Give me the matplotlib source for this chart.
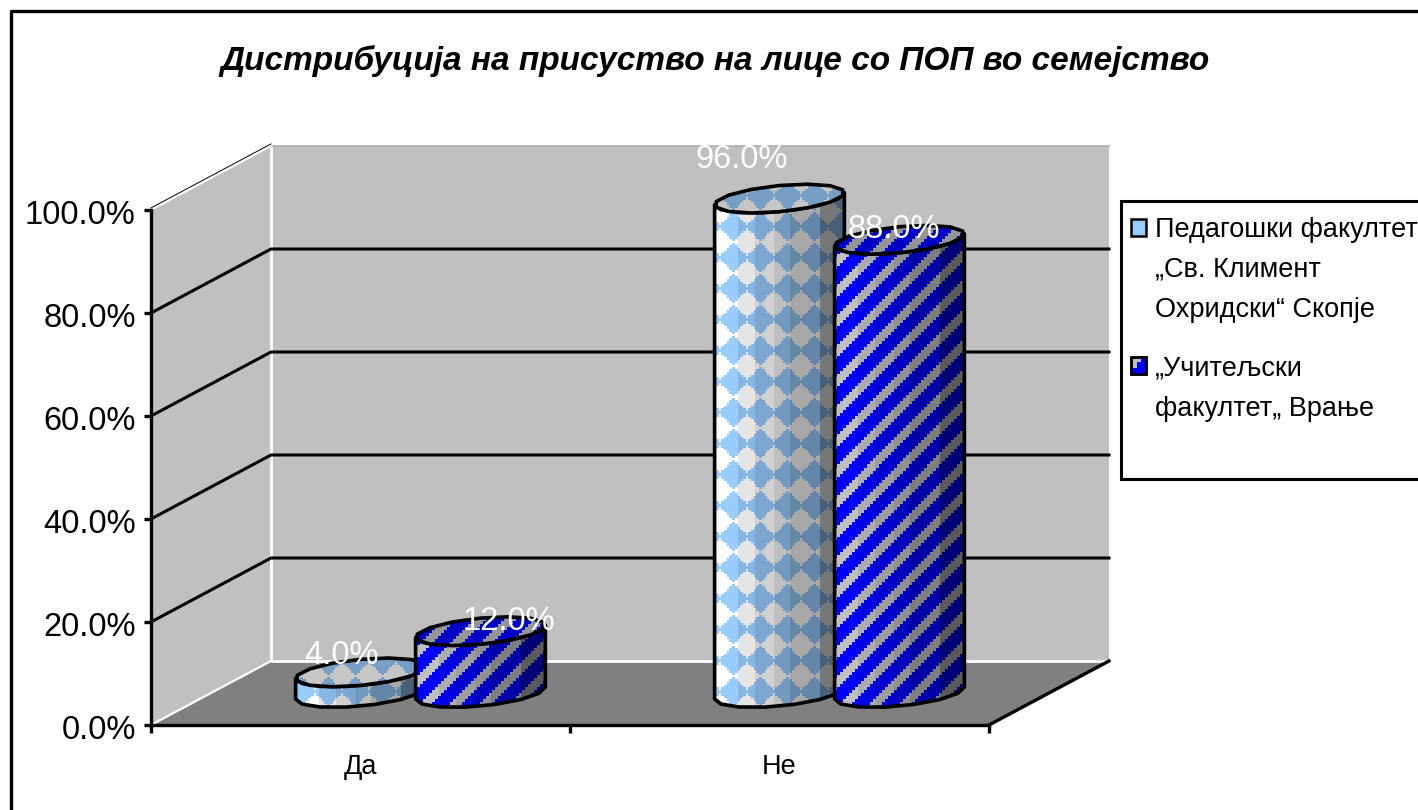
import numpy as np
import matplotlib
matplotlib.use('Agg')
import matplotlib.pyplot as plt
from matplotlib.patches import Polygon, Rectangle
from matplotlib.transforms import ScaledTranslation

categories = ['Да', 'Не']
series_names = ['Педагошки факултет\n„Св. Климент\nОхридски“ Скопје', '„Учитељски\nфакултет„ Врање']
pedagoski = [4.0, 96.0]
uciteljski = [12.0, 88.0]
y_ticks = [0, 20, 40, 60, 80, 100]

title = 'Дистрибуција на присуство на лице со ПОП во семејство'

FONT = 'Liberation Sans'
W, H = 1418, 810

# 3d look: how far the back wall is moved from the front plane (data units)
DEPTH_X = 120 / 419
DEPTH_Y = 64 / 5.15
BAR_OFFSET = 60 / 419
BAR_A = 59 / 419
BAR_Z = 0.225
N_FACETS = 14

band_edges = [0, .18, .31, .45, .58, .81, 1.01]
band_shade = [1, .9, .82, .75, .66, .47]


def project(x, y, z):
    return x + z * DEPTH_X, y + z * DEPTH_Y


def diamonds(rows, cols, x0, y0):
    # light blue diamonds on white, about 3 pixel blocks
    img = np.ones((rows, cols, 3))
    yy, xx = np.mgrid[y0:y0 + rows, x0:x0 + cols]
    dx = (xx - 733 + 13.5) % 27 - 13.5
    dy = (yy - 412 + 15.5) % 31 - 15.5
    dx = np.round(dx / 2.67) * 2.67
    dy = np.round(dy / 2.67) * 2.67
    mask = np.abs(dx) / 13.5 + np.abs(dy) / 15.5 < 1
    img[mask] = np.array([0x99, 0xCC, 0xFF]) / 255
    return img


def stripes(rows, cols, x0, y0):
    # blue and gray diagonal stripes
    img = np.zeros((rows, cols, 3))
    img[:] = np.array([0, 0, 1.0])
    yy, xx = np.mgrid[y0:y0 + rows, x0:x0 + cols]
    mask = ((xx // 3 + yy // 3 + 6) % 10) < 4
    img[mask] = np.array([0xC0, 0xC0, 0xC0]) / 255
    return img


def ellipse(cx, y, n=N_FACETS):
    t0 = np.arctan2(BAR_Z * DEPTH_X, BAR_A)
    t = t0 + np.linspace(0, 2 * np.pi, n, endpoint=False) + np.pi / n
    xs = cx + BAR_A * np.cos(t)
    zs = 0.5 + BAR_Z * np.sin(t)
    return project(xs, y, zs)


def draw_bar(ax, cx, value, texture, z):
    t0 = np.arctan2(BAR_Z * DEPTH_X, BAR_A)
    t = np.linspace(t0 + np.pi, t0 + 2 * np.pi, N_FACETS // 2 + 1)
    low_x, low_y = project(cx + BAR_A * np.cos(t), 0, 0.5 + BAR_Z * np.sin(t))
    top_x, top_y = project(cx + BAR_A * np.cos(t), value, 0.5 + BAR_Z * np.sin(t))
    body = np.r_[np.c_[low_x, low_y], np.c_[top_x, top_y][::-1]]
    cap_x, cap_y = ellipse(cx, value)
    cap = np.c_[cap_x, cap_y]

    # pixel box of the bar, the pattern is laid out on whole pixels
    pts = ax.transData.transform(np.r_[body, cap])
    px0, py0 = np.floor(pts.min(axis=0)).astype(int) - 1
    px1, py1 = np.ceil(pts.max(axis=0)).astype(int) + 1
    cols, rows = px1 - px0, py1 - py0
    img = texture(rows, cols, px0, H - py1)

    # shading of the side from light to dark
    left, right = pts[:, 0].min(), pts[:, 0].max()
    u = (np.arange(cols) + px0 - left) / (right - left)
    shade = np.array(band_shade)[np.clip(np.digitize(u, band_edges) - 1, 0, 5)]

    inv = ax.transData.inverted()
    (x0, y0), (x1, y1) = inv.transform([(px0, py0), (px1, py1)])
    extent = (x0, x1, y0, y1)

    side = ax.imshow(img * shade[None, :, None], extent=extent, origin='upper', aspect='auto',
                     interpolation='nearest', zorder=z)
    side.set_clip_box(fig.bbox)
    side.set_clip_path(Polygon(body, closed=True, transform=ax.transData))
    ax.add_patch(Polygon(body, closed=True, fc='none', ec='black', lw=2.6, zorder=z + .1,
                         joinstyle='round', clip_on=False))
    top = ax.imshow(img * 0.78, extent=extent, origin='upper', aspect='auto',
                    interpolation='nearest', zorder=z + .2)
    top.set_clip_box(fig.bbox)
    top.set_clip_path(Polygon(cap, closed=True, transform=ax.transData))
    ax.add_patch(Polygon(cap, closed=True, fc='none', ec='black', lw=2.6, zorder=z + .3,
                         joinstyle='round', clip_on=False))


fig = plt.figure(figsize=(W / 100, H / 100), dpi=100, facecolor='white')

# overlay in pixels for frame, title and legend
page = fig.add_axes([0, 0, 1, 1], zorder=5)
page.set_xlim(0, W)
page.set_ylim(H, 0)
page.axis('off')
page.patch.set_alpha(0)

ax = fig.add_axes([151 / W, (H - 725) / H, 838 / W, 515 / H], zorder=2)
ax.set_xlim(0, 2)
ax.set_ylim(0, 100)
ax.patch.set_alpha(0)
for s in ['top', 'right']:
    ax.spines[s].set_visible(False)
for s in ['left', 'bottom']:
    ax.spines[s].set_linewidth(2.4)
    ax.spines[s].set_zorder(9)

# walls and floor
ax.add_patch(Polygon([project(0, 0, 0), project(0, 0, 1), project(0, 100, 1), project(0, 100, 0)],
                     fc='#C0C0C0', ec='none', zorder=1, clip_on=False))
ax.add_patch(Polygon([project(0, 0, 1), project(2, 0, 1), project(2, 100, 1), project(0, 100, 1)],
                     fc='#C0C0C0', ec='none', zorder=1, clip_on=False))
ax.add_patch(Polygon([project(0, 0, 0), project(2, 0, 0), project(2, 0, 1), project(0, 0, 1)],
                     fc='#808080', ec='none', zorder=1, clip_on=False))

# white edges between the planes
edge = dict(color='white', lw=2, zorder=1.5, clip_on=False, solid_capstyle='butt')
x_a, y_a = project(0, 0, 1)
x_b, y_b = project(0, 100, 1)
ax.plot([x_a, x_b], [y_a, y_b], **edge)
x_c, y_c = project(2, 0, 1)
ax.plot([x_a, x_c], [y_a, y_a], **edge)
x_d, y_d = project(2, 100, 1)
ax.plot([x_b, x_d], [y_b, y_b], color='#B0B0B0', lw=1.2, zorder=1.5, clip_on=False)
ax.plot([0, x_a], [0, y_a], color='white', lw=1.6, zorder=1.6, clip_on=False)
ax.plot([0, x_b], [100, y_b], color='white', lw=1.4, zorder=1.6, clip_on=False)
ax.plot([0, x_b], [100.4, y_b + .4], color='black', lw=.7, zorder=1.7, clip_on=False)
ax.plot([2, x_c], [0, y_c], color='black', lw=2.4, zorder=1.7, clip_on=False)

# gridlines on the left and back wall
for v in y_ticks[1:-1]:
    xs, ys = zip(project(0, v, 0), project(0, v, 1), project(2, v, 1))
    ax.plot(xs, ys, color='black', lw=2.2, zorder=2, clip_on=False)

for i, c in enumerate([0.5, 1.5]):
    draw_bar(ax, c - BAR_OFFSET, pedagoski[i], diamonds, 3 + i)
    draw_bar(ax, c + BAR_OFFSET, uciteljski[i], stripes, 3.5 + i)
    ax.set_xlim(0, 2)
    ax.set_ylim(0, 100)

# data labels, shifted by hand as in the original
label_shift = [[(-19, 17), (28, 10)], [(-38, 39), (-6, 10)]]
for i, c in enumerate([0.5, 1.5]):
    for j, (vals, off) in enumerate(((pedagoski, -BAR_OFFSET), (uciteljski, BAR_OFFSET))):
        xs, ys = project(c + off, vals[i], 0.5)
        ax.annotate(f'{vals[i]:.1f}%', (xs, ys), xytext=label_shift[i][j], textcoords='offset pixels',
                    ha='center', va='center', color='white', fontsize=23.5, family=FONT,
                    annotation_clip=False, zorder=10)

ax.set_yticks(y_ticks)
ax.set_yticklabels([f'{v:.1f}%' for v in y_ticks], family=FONT, fontsize=23.5)
ax.set_xticks([0, 1, 2])
ax.set_xticklabels([])
ax.set_xticks([0.5, 1.5], minor=True)
ax.set_xticklabels(categories, minor=True, family=FONT, fontsize=19.5)
ax.tick_params(axis='y', length=5, width=2.4, pad=6)
ax.tick_params(axis='x', which='major', length=6, width=2.4)
ax.tick_params(axis='x', which='minor', length=0, pad=21)
for lab in ax.get_yticklabels():
    lab.set_transform(lab.get_transform() + ScaledTranslation(0, -2 / 100, fig.dpi_scale_trans))

# outer chart frame, only left and top fall inside the picture
page.plot([10.5, 10.5, W + 5], [H + 5, 10.5, 10.5], color='black', lw=2.4, clip_on=False)

page.text(715, 61, title, ha='center', va='center', family=FONT, fontsize=24,
          fontweight='bold', fontstyle='italic', color='black')

# legend
page.add_patch(Rectangle((1120.5, 200.5), W, 278, fc='white', ec='black', lw=2.2))
page.add_patch(Rectangle((1131, 219), 15, 17, fc='#99CCFF', ec='black', lw=1.8))
page.add_patch(Rectangle((1131, 357), 15, 17, fc='#C0C0C0', ec='black', lw=1.8))
page.add_patch(Polygon([(1131, 374), (1131, 368), (1137, 368), (1137, 362), (1141, 362), (1141, 357),
                        (1146, 357), (1146, 374)], fc='#0000FF', ec='none'))
page.add_patch(Rectangle((1131, 357), 15, 17, fc='none', ec='black', lw=1.8))
page.text(1155, 270, series_names[0], family=FONT, fontsize=19.5, va='center', linespacing=1.71)
page.text(1155, 389, series_names[1], family=FONT, fontsize=19.5, va='center', linespacing=1.71)

fig.savefig('out.png', dpi=100)
